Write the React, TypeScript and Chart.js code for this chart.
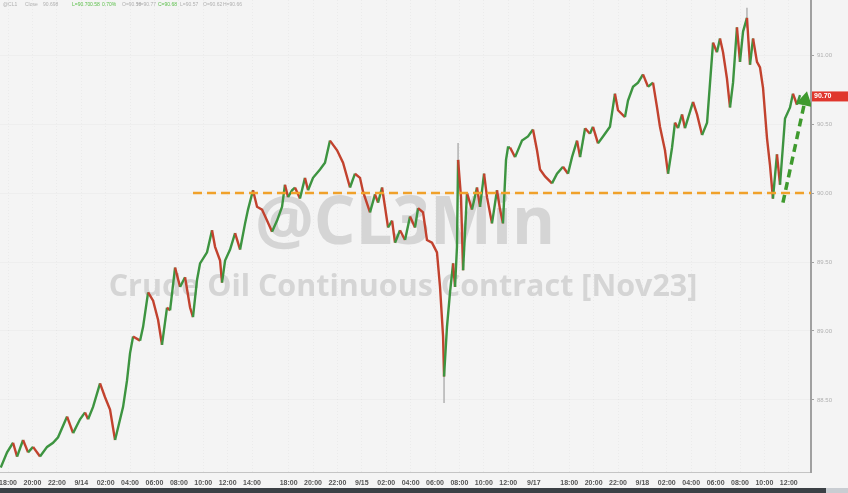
import React, { useEffect, useRef } from "react";
import { Chart, registerables } from "chart.js";
Chart.register(...registerables);

// trading hours since 9/13 18:00 (session breaks removed)
const hours = [
  -0.6, -0.08, 0.41, 0.74, 1.23, 1.64, 2.05, 2.62, 3.2, 3.69, 4.1, 4.84, 5.33, 5.9, 6.31, 6.56, 6.97, 7.54, 7.95, 8.36,
  8.77, 9.02, 9.43, 9.75, 10.0, 10.25, 10.82, 11.07, 11.48, 11.89, 12.3, 12.62, 13.03, 13.28, 13.69, 14.1, 14.51, 14.92, 15.16, 15.49,
  15.74, 16.31, 16.72, 16.97, 17.38, 17.54, 17.79, 18.2, 18.61, 19.02, 19.43, 19.67, 20.08, 20.41, 20.82, 21.23, 21.64, 22.05, 22.46, 22.7,
  22.95, 23.28, 23.52, 23.93, 24.34, 24.59, 25.0, 25.57, 25.98, 26.39, 26.97, 27.46, 28.03, 28.44, 28.85, 29.1, 29.67, 30.08, 30.33, 30.66,
  30.9, 31.15, 31.48, 31.72, 32.13, 32.54, 32.95, 33.36, 33.61, 34.02, 34.34, 34.75, 35.16, 35.41, 35.66, 35.74, 35.98, 36.23, 36.48, 36.64,
  36.8, 36.89, 37.13, 37.3, 37.62, 38.03, 38.44, 38.69, 39.02, 39.26, 39.67, 40.08, 40.33, 40.57, 40.82, 40.98, 41.15, 41.56, 42.13, 42.62,
  43.03, 43.36, 43.61, 44.02, 44.59, 45.0, 45.49, 45.9, 46.23, 46.64, 46.89, 47.3, 47.7, 47.95, 48.36, 48.77, 49.34, 49.75, 50.0, 50.57,
  50.82, 51.23, 51.64, 52.05, 52.46, 52.87, 53.2, 53.44, 53.85, 54.1, 54.43, 54.67, 54.92, 55.25, 55.49, 56.15, 56.48, 56.89, 57.3, 57.79,
  58.11, 58.36, 58.61, 58.93, 59.18, 59.43, 59.75, 60.0, 60.25, 60.57, 60.82, 61.07, 61.39, 61.64, 61.89, 62.21, 62.46, 62.7, 63.03, 63.28,
  63.69, 64.1, 64.34, 64.67, 64.92,
];
const prices = [
  88.01, 88.12, 88.19, 88.09, 88.21, 88.12, 88.16, 88.09, 88.16, 88.19, 88.23, 88.38, 88.26, 88.36, 88.41, 88.36, 88.45, 88.62, 88.52, 88.43,
  88.21, 88.3, 88.45, 88.64, 88.84, 88.96, 88.93, 89.03, 89.28, 89.22, 89.08, 88.9, 89.17, 89.15, 89.46, 89.32, 89.39, 89.17, 89.1, 89.37,
  89.49, 89.57, 89.73, 89.61, 89.51, 89.35, 89.51, 89.59, 89.71, 89.59, 89.78, 89.88, 90.02, 89.9, 89.88, 89.8, 89.72, 89.8, 89.9, 90.06,
  89.97, 90.02, 90.04, 89.96, 90.11, 90.02, 90.11, 90.17, 90.22, 90.38, 90.31, 90.22, 90.04, 90.14, 90.11, 90.01, 89.86, 89.99, 89.93, 90.04,
  89.9, 89.75, 89.8, 89.64, 89.73, 89.66, 89.83, 89.75, 89.89, 89.86, 89.66, 89.64, 89.57, 89.32, 88.96, 88.67, 89.03, 89.28, 89.49, 89.32,
  89.61, 90.24, 89.97, 89.44, 90.0, 89.88, 90.04, 89.9, 90.14, 89.97, 89.78, 90.02, 89.88, 89.78, 90.24, 90.33, 90.33, 90.26, 90.38, 90.41,
  90.46, 90.31, 90.17, 90.12, 90.07, 90.14, 90.19, 90.14, 90.26, 90.38, 90.26, 90.47, 90.43, 90.48, 90.36, 90.41, 90.48, 90.72, 90.6, 90.55,
  90.67, 90.77, 90.8, 90.86, 90.77, 90.8, 90.62, 90.48, 90.31, 90.14, 90.33, 90.51, 90.47, 90.57, 90.47, 90.66, 90.57, 90.42, 90.51, 91.09,
  91.02, 91.12, 91.02, 90.83, 90.62, 90.8, 91.2, 90.95, 91.17, 91.27, 90.93, 91.12, 90.95, 90.91, 90.76, 90.4, 90.2, 89.96, 90.28, 90.06,
  90.54, 90.62, 90.72, 90.64, 90.71,
];

// long wicks: hour, low, high
const wickHours = [35.74, 36.89, 60.57];
const wickLows = [88.48, 90.0, 91.2];
const wickHighs = [88.67, 90.36, 91.34];

const supportLevel = 90.0;
const supportFrom = 15.16;
const supportTo = 65.82;

const arrowHours = [63.52, 65.33];
const arrowPrices = [89.93, 90.67];

const currentPrice = 90.7;

const tickHours = [0, 2, 4, 6, 8, 10, 12, 14, 16, 18, 20, 23, 25, 27, 29, 31, 33, 35, 37, 39, 41, 43.1, 46, 48, 50, 52, 54, 56, 58, 60, 62, 64];
const tickLabels = [
  "18:00", "20:00", "22:00", "9/14", "02:00", "04:00", "06:00", "08:00", "10:00", "12:00", "14:00",
  "18:00", "20:00", "22:00", "9/15", "02:00", "04:00", "06:00", "08:00", "10:00", "12:00", "9/17",
  "18:00", "20:00", "22:00", "9/18", "02:00", "04:00", "06:00", "08:00", "10:00", "12:00",
];
const yTicks = [88.5, 89.0, 89.5, 90.0, 90.5, 91.0];

const watermark1 = "@CL3Min";
const watermark2 = "Crude Oil Continuous Contract [Nov23]";

const GREEN = "#3d9440";
const RED = "#c2422e";

const decor = {
  id: "decor",
  beforeDraw(chart: any) {
    const { ctx, width, height } = chart;
    ctx.save();
    ctx.fillStyle = "#f4f4f4";
    ctx.fillRect(0, 0, width, height);
    ctx.restore();
  },
  beforeDatasetsDraw(chart: any) {
    const { ctx } = chart;
    ctx.save();
    ctx.fillStyle = "#d5d5d5";
    ctx.textAlign = "center";
    ctx.textBaseline = "alphabetic";
    const fit = (text: string, target: number) => {
      ctx.font = "bold 100px 'Open Sans', sans-serif";
      const w = ctx.measureText(text).width;
      return (100 * target) / w;
    };
    const s1 = fit(watermark1, 300);
    ctx.font = `bold ${s1}px 'Open Sans', sans-serif`;
    ctx.fillText(watermark1, 405, 244);
    const s2 = fit(watermark2, 589);
    ctx.font = `bold ${s2}px 'Open Sans', sans-serif`;
    ctx.fillText(watermark2, 403, 296);
    ctx.restore();
  },
  afterDraw(chart: any) {
    const { ctx, width, height, scales } = chart;
    ctx.save();
    // bottom strip
    ctx.fillStyle = "#3b4045";
    ctx.fillRect(0, 488, width, height - 488);
    ctx.fillStyle = "#c9cdd2";
    ctx.fillRect(826, 488, width - 826, height - 488);
    // header
    ctx.font = "5px 'Liberation Sans', Arial, sans-serif";
    ctx.textBaseline = "middle";
    ctx.textAlign = "left";
    const parts: [string, number, string][] = [
      ["@CL1", 3, "#b0b0b0"], ["Close", 25, "#b0b0b0"], ["90.698", 43, "#b0b0b0"],
      ["L=90.70", 72, "#5bbf4a"], ["0.58", 90, "#5bbf4a"], ["0.70%", 102, "#5bbf4a"],
      ["O=90.58", 122, "#b0b0b0"], ["H=90.77", 137, "#b0b0b0"], ["C=90.68", 158, "#5bbf4a"],
      ["L=90.57", 180, "#b0b0b0"], ["O=90.62", 203, "#b0b0b0"], ["H=90.66", 223, "#b0b0b0"],
    ];
    for (const [t, x, c] of parts) {
      ctx.fillStyle = c;
      ctx.fillText(t, x, 5);
    }
    // current price tag
    const y = scales.y.getPixelForValue(currentPrice);
    ctx.fillStyle = "#e0362c";
    ctx.fillRect(812, y - 5, width - 812, 10);
    ctx.fillStyle = "#ffffff";
    ctx.font = "bold 7px 'Liberation Sans', Arial, sans-serif";
    ctx.fillText(currentPrice.toFixed(2), 814, y);
    ctx.restore();
  },
};

export default function App() {
  const ref = useRef<HTMLCanvasElement | null>(null);
  useEffect(() => {
    if (!ref.current) return;
    const priceData = hours.map((h, i) => ({ x: h, y: prices[i] }));
    const wickData = wickHours.map((h, i) => ({ x: h, y: [wickLows[i], wickHighs[i]] }));
    const chart = new Chart(ref.current, {
      type: "line",
      data: {
        datasets: [
          {
            type: "bar",
            data: wickData as any,
            backgroundColor: "#b8b8b8",
            barThickness: 1,
            grouped: false,
            order: 5,
          } as any,
          {
            data: priceData,
            borderWidth: 2.4,
            pointRadius: 0,
            tension: 0,
            borderColor: GREEN,
            segment: {
              borderColor: (c: any) => (c.p1.parsed.y >= c.p0.parsed.y ? GREEN : RED),
            },
            order: 4,
          },
          {
            data: [
              { x: supportFrom, y: supportLevel },
              { x: supportTo, y: supportLevel },
            ],
            borderColor: "#f0a12a",
            borderWidth: 2.5,
            borderDash: [9, 5],
            pointRadius: 0,
            order: 2,
          },
          {
            data: arrowHours.map((h, i) => ({ x: h, y: arrowPrices[i] })),
            borderColor: "#3f9a2e",
            borderWidth: 3.5,
            borderDash: [8, 5],
            pointRadius: [0, 6],
            pointStyle: "triangle",
            pointRotation: 12,
            pointBackgroundColor: "#3f9a2e",
            pointBorderColor: "#3f9a2e",
            order: 1,
          },
        ],
      },
      options: {
        responsive: false,
        animation: false,
        devicePixelRatio: 1,
        layout: { padding: 0, autoPadding: false },
        plugins: { legend: { display: false }, tooltip: { enabled: false } },
        scales: {
          x: {
            type: "linear",
            offset: false,
            bounds: "data",
            min: -0.66,
            max: 65.82,
            afterBuildTicks: (s: any) => {
              s.ticks = tickHours.map((v) => ({ value: v }));
            },
            afterFit: (s: any) => {
              s.height = 21;
              s.paddingLeft = 0;
              s.paddingRight = 0;
            },
            ticks: {
              autoSkip: false,
              maxRotation: 0,
              padding: 7,
              color: "#555555",
              font: { size: 7, weight: "bold", family: "'Liberation Sans', Arial, sans-serif" },
              callback: (_v: any, i: number) => tickLabels[i],
            },
            grid: { color: "rgba(0,0,0,0.035)", drawTicks: false, offset: false },
            border: { display: true, color: "#c4c4c4", dash: [1, 2] },
          },
          y: {
            position: "right",
            bounds: "data",
            min: 87.978,
            max: 91.399,
            afterBuildTicks: (s: any) => {
              s.ticks = yTicks.map((v) => ({ value: v }));
            },
            afterFit: (s: any) => {
              s.width = 37;
              s.paddingTop = 0;
              s.paddingBottom = 0;
            },
            ticks: {
              padding: 3,
              color: "#b0b0b0",
              font: { size: 6, family: "'Liberation Sans', Arial, sans-serif" },
              callback: (v: any) => Number(v).toFixed(2),
            },
            grid: { color: "rgba(0,0,0,0.025)", tickLength: 3, tickColor: "#a0a0a0" },
            border: { color: "#a0a0a0", width: 2 },
          },
        },
      } as any,
      plugins: [decor],
    });
    return () => chart.destroy();
  }, []);
  return (
    <div style={{ position: "fixed", left: 0, top: 0, width: 848, height: 493 }}>
      <canvas ref={ref} width={848} height={493} style={{ width: 848, height: 493, display: "block" }} />
    </div>
  );
}
